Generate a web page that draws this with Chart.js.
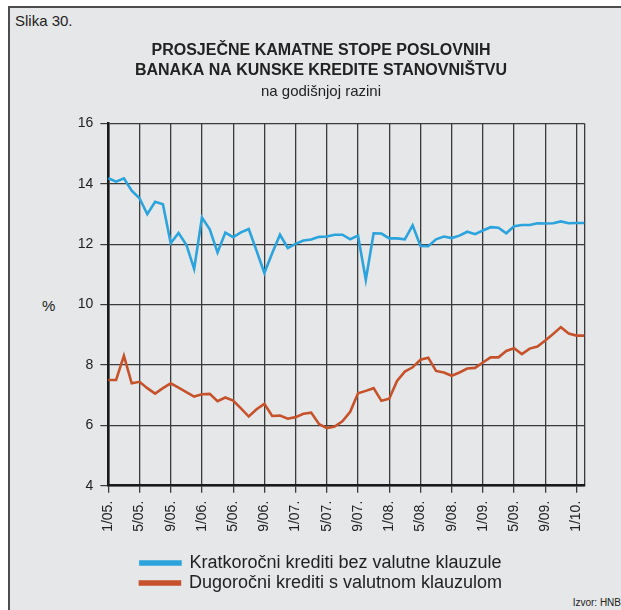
<!DOCTYPE html>
<html lang="hr">
<head>
    <meta charset="UTF-8">
    <title>Slika 30.</title>
    <script src="https://cdn.jsdelivr.net/npm/chart.js"></script>
    <style>
        body { margin: 0; background: #fff; font-family: "Liberation Sans", Arial, sans-serif; }
        #okvir { position: absolute; left: 8px; top: 6px; width: 640px; height: 640px;
                 background: #e6e7e9; border-left: 2px solid #4d4d4d; border-top: 2px solid #4d4d4d; }
        #wrap { position: absolute; left: 0; top: 0; width: 621px; height: 610px; overflow: hidden; }
        .txt { position: absolute; color: #222; white-space: nowrap; }
    </style>
</head>
<body>
<div id="wrap">
    <div id="okvir"></div>
    <div class="txt" style="left:15px; top:12px; font-size:15px;">Slika 30.</div>
    <div class="txt" style="left:42px; top:297px; font-size:15px;">%</div>
    <div class="txt" style="right:0; top:597px; font-size:10px;">Izvor: HNB</div>
    <canvas id="graf" width="621" height="610" style="position:absolute; left:0; top:0;"></canvas>
</div>
<script>
    // mjeseci od 1/05. do 2/10.
    var mjeseci = [];
    for (var g = 5; g <= 10; g++) {
        for (var m = 1; m <= 12; m++) {
            if (g === 10 && m > 2) break;
            mjeseci.push(m + '/' + (g < 10 ? '0' + g : g) + '.');
        }
    }

    var kratkorocni = [14.18, 14.07, 14.18, 13.77, 13.52, 12.99, 13.40, 13.32, 12.03, 12.37,
        11.98, 11.18, 12.88, 12.49, 11.72, 12.38, 12.23, 12.39, 12.50, 11.78,
        11.04, 11.70, 12.31, 11.87, 12.01, 12.12, 12.15, 12.24, 12.25, 12.31,
        12.31, 12.16, 12.28, 10.82, 12.36, 12.35, 12.19, 12.19, 12.16, 12.62,
        11.94, 11.93, 12.16, 12.25, 12.20, 12.28, 12.41, 12.33, 12.45, 12.56,
        12.54, 12.36, 12.59, 12.63, 12.63, 12.69, 12.68, 12.69, 12.75, 12.69, 12.70, 12.70];

    var dugorocni = [7.50, 7.50, 8.30, 7.39, 7.44, 7.23, 7.05, 7.23, 7.39, 7.25,
        7.10, 6.95, 7.03, 7.04, 6.80, 6.92, 6.82, 6.56, 6.29, 6.53,
        6.71, 6.31, 6.32, 6.22, 6.27, 6.38, 6.42, 6.04, 5.91, 5.96,
        6.13, 6.45, 7.06, 7.14, 7.23, 6.81, 6.88, 7.47, 7.78, 7.92,
        8.17, 8.24, 7.80, 7.75, 7.64, 7.75, 7.88, 7.90, 8.08, 8.25,
        8.25, 8.46, 8.55, 8.36, 8.54, 8.61, 8.81, 9.02, 9.25, 9.04, 8.97, 8.97];

    var naslov = ['PROSJEČNE KAMATNE STOPE POSLOVNIH', 'BANAKA NA KUNSKE KREDITE STANOVNIŠTVU'];
    var podnaslov = 'na godišnjoj razini';
    var nazivi = ['Kratkoročni krediti bez valutne klauzule', 'Dugoročni krediti s valutnom klauzulom'];

    var font = '"Liberation Sans", Arial, sans-serif';
    var zadnji = mjeseci.length - 1;

    var config = {
        type: 'line',
        data: {
            labels: mjeseci,
            datasets: [{
                label: nazivi[0],
                data: kratkorocni,
                borderColor: '#2ba3dc',
                backgroundColor: '#2ba3dc',
                borderWidth: 2.6,
                pointRadius: 0,
                tension: 0
            }, {
                label: nazivi[1],
                data: dugorocni,
                borderColor: '#c6522b',
                backgroundColor: '#c6522b',
                borderWidth: 2.6,
                pointRadius: 0,
                tension: 0
            }]
        },
        options: {
            responsive: false,
            animation: false,
            layout: { padding: { left: 57.7, right: 36.7, top: 0, bottom: 8 } },
            plugins: {
                title: {
                    display: true,
                    text: naslov,
                    color: '#222',
                    font: { family: font, size: 16, weight: 'bold', lineHeight: 1.2 },
                    padding: { top: 41.4, bottom: 3.2 }
                },
                subtitle: {
                    display: true,
                    text: podnaslov,
                    color: '#222',
                    font: { family: font, size: 15, lineHeight: 1.2 },
                    padding: { top: 0, bottom: 22.3 }
                },
                legend: {
                    position: 'bottom',
                    maxWidth: 440,
                    labels: {
                        color: '#222',
                        font: { family: font, size: 18 },
                        boxWidth: 40,
                        boxHeight: 3,
                        padding: 2
                    }
                },
                tooltip: { enabled: false }
            },
            scales: {
                x: {
                    afterFit: function (s) { s.height = 66.3; },
                    ticks: {
                        autoSkip: false,
                        minRotation: 90,
                        maxRotation: 90,
                        padding: 8,
                        color: '#222',
                        font: { family: font, size: 14 },
                        callback: function (v, i) { return i % 4 === 0 ? mjeseci[i] : ''; }
                    },
                    grid: {
                        color: function (c) { return (c.index % 4 === 0 || c.index === zadnji) ? '#3a3a3a' : 'rgba(0,0,0,0)'; },
                        tickColor: function (c) { return c.index % 4 === 0 ? '#3a3a3a' : 'rgba(0,0,0,0)'; },
                        lineWidth: 1.3,
                        tickLength: 7
                    },
                    border: { color: '#1a1a1a', width: 2.5 }
                },
                y: {
                    min: 4,
                    max: 16,
                    afterFit: function (s) { s.width = 50.6; },
                    ticks: {
                        stepSize: 2,
                        padding: 7,
                        color: '#222',
                        font: { family: font, size: 14 }
                    },
                    grid: { color: '#3a3a3a', lineWidth: 1.2, tickLength: 8 },
                    border: { color: '#1a1a1a', width: 2.5 }
                }
            }
        }
    };

    var graf = new Chart(document.getElementById('graf'), config);
</script>
</body>
</html>
